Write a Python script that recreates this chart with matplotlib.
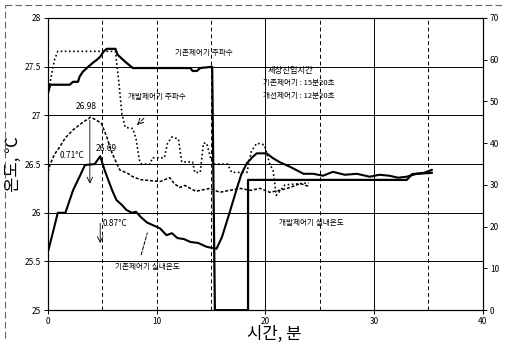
import matplotlib
matplotlib.use("Agg")
import matplotlib.pyplot as plt
from matplotlib.lines import Line2D

plt.rcParams['font.family'] = ['Noto Sans CJK KR', 'DejaVu Sans']

# 기존제어기 주파수 (Hz, right axis)
t_old_f = [0, 0.2, 2.0, 2.3, 2.76, 2.9, 3.2, 3.7, 4.1, 4.5, 4.8, 5.1, 5.4, 6.2, 6.4, 7.1, 7.8,
           13.1, 13.3, 13.7, 14.0, 15.1, 15.35, 18.4, 18.4, 33.0, 33.5, 35.3]
f_old = [52.0, 54.0, 54.0, 54.7, 54.7, 55.9, 57.1, 58.3, 59.2, 60.0, 60.7, 61.9, 62.6, 62.6, 61.2, 59.5, 58.0,
         58.0, 57.3, 57.3, 58.0, 58.3, 0, 0, 31.2, 31.2, 32.6, 32.9]

# 개발제어기 주파수 (Hz, right axis)
t_new_f = [0, 0.3, 0.6, 0.9, 6.2, 6.5, 6.8, 7.1, 7.8, 8.1, 8.4, 8.6, 9.4, 9.6, 10.7, 11.0, 11.4, 12.0,
           12.3, 13.3, 13.5, 14.0, 14.3, 14.6, 15.0, 15.3, 16.5, 16.9, 18.3, 18.7, 19.2, 19.9, 20.4,
           20.7, 21.0, 21.8, 24.0]
f_new = [52, 56, 60, 62, 62, 55, 47, 43.8, 43.5, 41, 36, 35, 35, 36.5, 36.5, 40, 41.5, 41,
         35.5, 35.5, 33, 33, 40, 40, 36, 35, 35, 33, 33, 38, 40, 39.6, 35,
         33.5, 27.5, 30, 30.5]

# 기존제어기 실내온도 (°C, left axis)
t_old_T = [0, 0.5, 0.9, 1.6, 2.3, 2.9, 3.4, 4.3, 4.8, 5.2, 5.9, 6.3, 6.8, 7.2, 7.7, 8.1, 8.5, 9.1, 9.7,
           10.3, 10.9, 11.4, 11.9, 12.5, 13.1, 13.8, 14.6, 15.5, 16.0, 16.7, 17.4, 17.8, 18.3, 18.8,
           19.2, 20.1, 20.7, 21.3, 22.3, 23.5, 24.4, 25.3, 26.2, 27.3, 28.4, 29.6, 30.5, 31.4,
           32.2, 33.0, 33.9, 34.6, 35.3]
T_old = [25.6, 25.82, 26.0, 26.0, 26.23, 26.37, 26.49, 26.5, 26.58, 26.44, 26.23, 26.13, 26.08, 26.03,
         26.0, 26.01, 25.96, 25.9, 25.87, 25.84, 25.77, 25.79, 25.74, 25.73, 25.70, 25.69, 25.65,
         25.63, 25.75, 26.0, 26.26, 26.4, 26.51, 26.57, 26.61, 26.61, 26.56, 26.52, 26.47, 26.40,
         26.40, 26.38, 26.42, 26.39, 26.40, 26.37, 26.39, 26.38, 26.36, 26.37, 26.40, 26.41, 26.44]

# 개발제어기 실내온도 (°C, left axis)
t_new_T = [0, 0.2, 0.6, 1.1, 1.6, 2.3, 3.1, 3.9, 4.3, 4.9, 5.4, 5.9, 6.6, 7.0, 7.4, 7.8, 8.5, 9.4,
           10.3, 11.2, 11.6, 12.1, 12.6, 13.1, 13.6, 14.0, 14.9, 15.8, 16.7, 17.7, 18.6, 19.5,
           20.4, 21.3, 22.3, 23.2, 24.0]
T_new = [26.42, 26.5, 26.6, 26.68, 26.77, 26.85, 26.92, 26.98, 26.96, 26.92, 26.78, 26.61, 26.44,
         26.42, 26.4, 26.37, 26.34, 26.33, 26.32, 26.36, 26.30, 26.26, 26.28, 26.25, 26.22, 26.23,
         26.25, 26.21, 26.23, 26.25, 26.23, 26.25, 26.21, 26.23, 26.26, 26.30, 26.27]

left_ticks = [25, 25.5, 26, 26.5, 27, 27.5, 28]
right_ticks = [0, 10, 20, 30, 40, 50, 60, 70]
x_ticks = [0, 10, 20, 30, 40]

fig = plt.figure(figsize=(5.08, 3.45), dpi=100)
ax = fig.add_axes([0.0945, 0.101, 0.856, 0.847])
ax2 = ax.twinx()

ax.set_xlim(0, 40)
ax.set_ylim(25, 28)
ax2.set_ylim(0, 70)
ax.set_xticks(x_ticks)
ax.set_xticks([5, 15, 25, 35], minor=True)
ax.set_yticks(left_ticks)
ax.set_yticklabels(['%g' % v for v in left_ticks])
ax2.set_yticks(right_ticks)

for a in (ax, ax2):
    a.tick_params(labelsize=6, length=3, width=0.7, pad=2, colors='black')
    for s in a.spines.values():
        s.set_linewidth(0.8)
ax.tick_params(axis='x', which='minor', length=0)

for v in left_ticks[1:-1]:
    ax.axhline(v, color='black', lw=0.7, zorder=1)
for v in [5, 10, 15, 25, 35]:
    ax.axvline(v, color='black', lw=0.7, ls=(0, (4, 3)), zorder=1)
for v in [20, 30]:
    ax.axvline(v, color='black', lw=0.7, zorder=1)

ax2.plot(t_old_f, f_old, color='black', lw=1.6, zorder=4)
ax2.plot(t_new_f, f_new, color='black', lw=1.2, ls=(0, (1, 1.5)), zorder=4)
ax.plot(t_old_T, T_old, color='black', lw=1.5, zorder=4)
ax.plot(t_new_T, T_new, color='black', lw=1.1, ls=(0, (2, 1.2)), zorder=4)

kfam = ['Noto Sans CJK KR', 'DejaVu Sans']
fs = 5.5
ax.text(14.3, 27.64, '기존제어기 주파수', fontsize=fs, ha='center', va='center', family=kfam)
ax.text(10.0, 27.19, '개발제어기 주파수', fontsize=fs, ha='center', va='center', family=kfam)
ax.annotate('', xy=(8.0, 26.88), xytext=(9.0, 26.99),
            arrowprops=dict(arrowstyle='->', color='black', lw=0.7, ls='--'))
ax.text(20.2, 27.46, '제상진입시간', fontsize=6, ha='left', va='center', family=kfam)
ax.text(19.8, 27.33, '기존제어기 : 15분20초', fontsize=fs, ha='left', va='center', family=kfam)
ax.text(19.8, 27.20, '개선제어기 : 12분20초', fontsize=fs, ha='left', va='center', family=kfam)
ax.text(3.5, 27.09, '26.98', fontsize=6, ha='center', va='center')
ax.text(5.4, 26.66, '26.69', fontsize=6, ha='center', va='center')
ax.text(2.2, 26.59, '0.71°C', fontsize=6, ha='center', va='center')
ax.text(6.2, 25.89, '0.87°C', fontsize=6, ha='center', va='center')
ax.annotate('', xy=(3.85, 26.27), xytext=(3.85, 26.98),
            arrowprops=dict(arrowstyle='->', color='black', lw=0.6))
ax.annotate('', xy=(4.8, 25.66), xytext=(4.8, 25.92),
            arrowprops=dict(arrowstyle='->', color='black', lw=0.6))
ax.text(9.1, 25.44, '기존제어기 실내온도', fontsize=fs, ha='center', va='center', family=kfam)
ax.annotate('', xy=(9.2, 25.82), xytext=(8.5, 25.54),
            arrowprops=dict(arrowstyle='-', color='black', lw=0.7, ls='--'))
ax.text(24.2, 25.89, '개발제어기 실내온도', fontsize=fs, ha='center', va='center', family=kfam)

ax.set_xlabel('시간, 분', fontsize=12, family=kfam)
ax.xaxis.set_label_coords(0.52, -0.054)
ax.xaxis.label.set_va('top')
ax.set_ylabel('온도, ℃', fontsize=12, family=kfam)
ax.yaxis.set_label_coords(-0.06, 0.5)

fig.add_artist(Line2D([0.01, 0.99], [0.986, 0.986], transform=fig.transFigure,
                      color='0.4', lw=0.8, ls=(0, (6, 3))))
fig.add_artist(Line2D([0.01, 0.01], [0.02, 0.986], transform=fig.transFigure,
                      color='0.4', lw=0.8, ls=(0, (6, 3))))

fig.savefig('out.png', dpi=100)
